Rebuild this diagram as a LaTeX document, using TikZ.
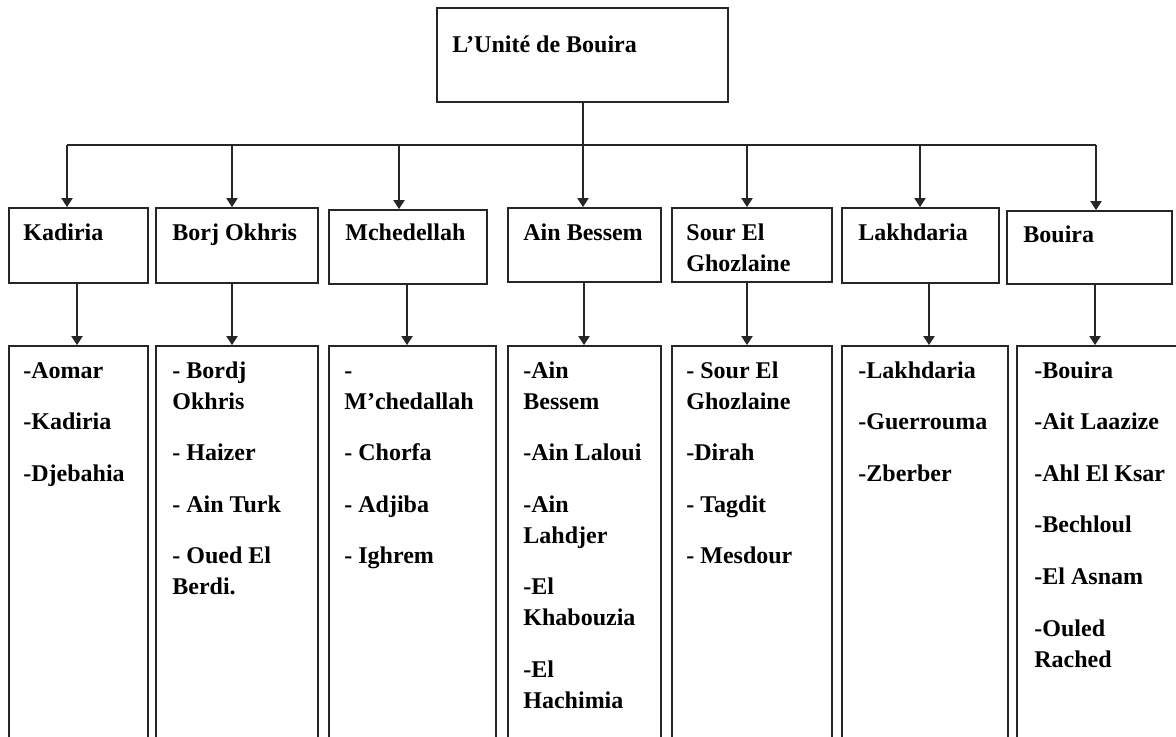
\documentclass[tikz,border=0pt]{standalone}
\usepackage{fontspec}
\setmainfont{Liberation Serif}
\usetikzlibrary{arrows.meta,fit}
% lines set from the baseline of the first one
\newcommand{\lines}[1]{\begin{tabular}[t]{@{}l@{}}#1\end{tabular}}
\begin{document}
\begin{tikzpicture}[
    x=0.5pt, y=-0.5pt,
    box/.style={draw=black!85, line width=0.9pt, inner sep=0pt},
    lab/.style={font=\fontsize{12}{15.5}\selectfont\bfseries, inner sep=0pt, anchor=base west},
    link/.style={draw=black!85, line width=1pt},
    arr/.style={link, -{Triangle[width=5.5pt,length=4.5pt]}}]
  \path[use as bounding box, clip] (0,0) rectangle (1176,736);
  % head unit
  \node[box, fit={(437,8) (728,102)}] (unite) {};
  \node[lab] (unite-t) at (452,52) {L’Unité de Bouira};
  % subdivisions
  \node[box, fit={(9,208) (148,283)}]    (kad)  {};
  \node[box, fit={(156,208) (318,283)}]  (borj) {};
  \node[box, fit={(329,210) (487,284)}]  (mch)  {};
  \node[box, fit={(508,208) (661,282)}]  (ain)  {};
  \node[box, fit={(672,208) (832,282)}]  (sour) {};
  \node[box, fit={(842,208) (999,283)}]  (lak)  {};
  \node[box, fit={(1007,211) (1172,284)}] (bou) {};
  \node[lab] (kad-t)  at (23,240)   {Kadiria};
  \node[lab] (borj-t) at (172,240)  {Borj Okhris};
  \node[lab] (mch-t)  at (345,240)  {Mchedellah};
  \node[lab] (ain-t)  at (523,240)  {Ain Bessem};
  \node[lab] (sour-t) at (686,240)  {\lines{Sour El\\Ghozlaine}};
  \node[lab] (lak-t)  at (858,240)  {Lakhdaria};
  \node[lab] (bou-t)  at (1023,242) {Bouira};
  % communes, the boxes run past the lower edge
  \node[box, fit={(9,346) (148,760)}]     (kad-c)  {};
  \node[box, fit={(156,346) (318,760)}]   (borj-c) {};
  \node[box, fit={(329,346) (496,760)}]   (mch-c)  {};
  \node[box, fit={(508,346) (661,760)}]   (ain-c)  {};
  \node[box, fit={(672,346) (832,760)}]   (sour-c) {};
  \node[box, fit={(842,346) (1008,760)}]  (lak-c)  {};
  \node[box, fit={(1017,346) (1200,760)}] (bou-c)  {};
  \node[lab] (kad-l) at (23,378) {\lines{-Aomar\\[10.3pt]-Kadiria\\[10.3pt]-Djebahia}};
  \node[lab] (borj-l) at (172,378) {\lines{- Bordj\\Okhris\\[10.3pt]- Haizer\\[10.3pt]- Ain Turk\\[10.3pt]- Oued El\\Berdi.}};
  \node[lab] (mch-l) at (344,378) {\lines{-\\M’chedallah\\[10.3pt]- Chorfa\\[10.3pt]- Adjiba\\[10.3pt]- Ighrem}};
  \node[lab] (ain-l) at (523,378) {\lines{-Ain\\Bessem\\[10.3pt]-Ain Laloui\\[10.3pt]-Ain\\Lahdjer\\[10.3pt]-El\\Khabouzia\\[10.3pt]-El\\Hachimia}};
  \node[lab] (sour-l) at (686,378) {\lines{- Sour El\\Ghozlaine\\[10.3pt]-Dirah\\[10.3pt]- Tagdit\\[10.3pt]- Mesdour}};
  \node[lab] (lak-l) at (858,378) {\lines{-Lakhdaria\\[10.3pt]-Guerrouma\\[10.3pt]-Zberber}};
  \node[lab] (bou-l) at (1034,378) {\lines{-Bouira\\[10.3pt]-Ait Laazize\\[10.3pt]-Ahl El Ksar\\[10.3pt]-Bechloul\\[10.3pt]-El Asnam\\[10.3pt]-Ouled\\Rached}};
  % bus from the head unit
  \coordinate (bus-w) at (67,145);
  \coordinate (bus-e) at (1096,145);
  \draw[link] (bus-w) -- (bus-e);
  \draw[arr] (unite.south -| 583,0) -- (ain.north -| 583,0);
  \foreach \n/\x in {kad/67, borj/232, mch/399, sour/747, lak/920, bou/1096}
    \draw[arr] (bus-w -| \x,0) -- (\n.north -| \x,0);
  % down to the communes
  \foreach \n/\x in {kad/77, borj/232, mch/407, ain/584, sour/747, lak/929, bou/1095}
    \draw[arr] (\n.south -| \x,0) -- (\n-c.north -| \x,0);
\end{tikzpicture}
\end{document}
